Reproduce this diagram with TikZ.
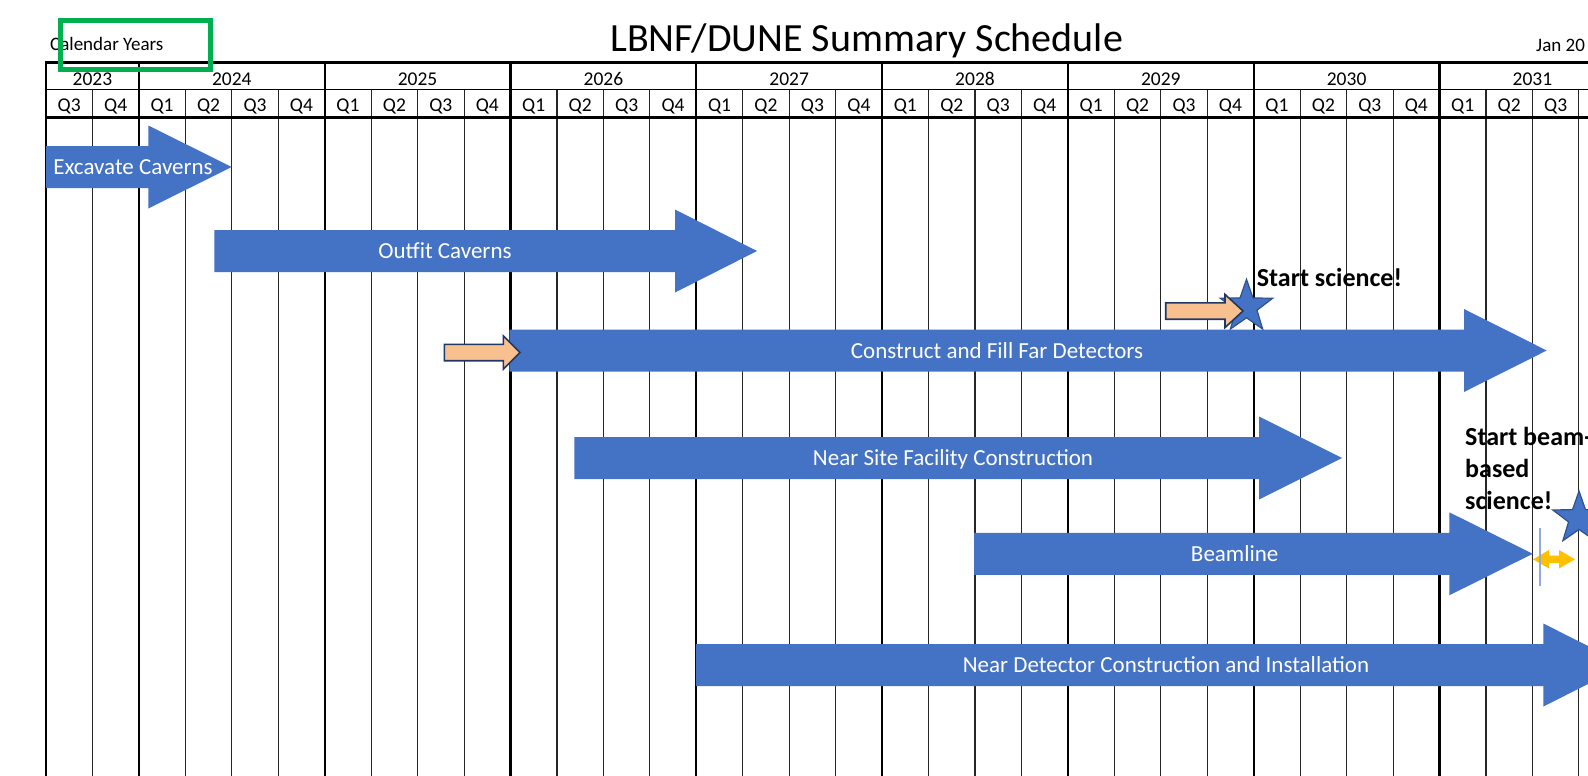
\documentclass[tikz,border=0pt]{standalone}
\usepackage{fontspec}
\setmainfont{Carlito}
\usepackage{tikz}
\usetikzlibrary{shapes.geometric}

\definecolor{barblue}{HTML}{4472C4}
\definecolor{starline}{HTML}{2F528F}
\definecolor{peach}{HTML}{F8C08F}
\definecolor{navy}{HTML}{203864}
\definecolor{gold}{HTML}{FFC000}
\definecolor{paleblue}{HTML}{8FAADC}
\definecolor{boxgreen}{HTML}{00B050}

% blue block arrow: left end, start of head, tip, centre line
\newcommand{\ganttbar}[4]{%
  \fill[barblue] (#1,#4-21) -- (#2,#4-21) -- (#2,#4-41.5) -- (#3,#4)
    -- (#2,#4+41.5) -- (#2,#4+21) -- (#1,#4+21) -- cycle;}
% small orange lead-in arrow
\newcommand{\leadarrow}[4]{%
  \filldraw[fill=peach, draw=navy, line width=1.6pt, line join=miter]
    (#1,#4-8.2) -- (#2,#4-8.2) -- (#2,#4-16.6) -- (#3,#4)
    -- (#2,#4+16.6) -- (#2,#4+8.2) -- (#1,#4+8.2) -- cycle;}

\begin{document}
\begin{tikzpicture}[x=1pt, y=-1pt,
    hdr/.style={inner sep=0pt, anchor=base, font=\fontsize{19.5}{22}\selectfont},
    barlbl/.style={inner sep=0pt, anchor=base, text=white, font=\fontsize{23}{27}\selectfont},
    callout/.style={inner sep=0pt, anchor=base west, font=\bfseries\fontsize{26}{32}\selectfont},
    qline/.style={line width=1.1pt, draw=black!85},
    yline/.style={line width=2.2pt, draw=black},
    milestone/.style={star, star points=5, star point ratio=2.5, minimum size=55pt,
                      inner sep=0pt, fill=barblue, draw=starline, line width=1.2pt}]

\clip (0,0) rectangle (1588,776);
\fill[white] (0,0) rectangle (1588,776);

% grid of quarters and years
\foreach \q in {1,...,34}
  \draw[qline] ({46+46.45*\q},89.3) -- ({46+46.45*\q},776);
\foreach \q in {2,6,...,34}
  \draw[yline] ({46+46.45*\q},62.7) -- ({46+46.45*\q},776);
\draw[yline] (46,62.7) -- (46,776);
\draw[line width=2.4pt] (45,62.7) -- (1588,62.7);
\draw[line width=1pt] (46,89.3) -- (1588,89.3);
\draw[line width=2.4pt] (45,117.3) -- (1588,117.3);

% header
\node[hdr, anchor=base west, font=\fontsize{19}{22}\selectfont] (calyears) at (50,51) {Calendar Years};
\node[inner sep=0pt, anchor=base, font=\fontsize{40}{48}\selectfont] (title) at (866.7,51.7) {LBNF/DUNE Summary Schedule};
\node[hdr, anchor=base west, font=\fontsize{19}{22}\selectfont] (date) at (1536,51.7) {Jan 20};

\node[hdr] (y2023) at ({46+46.45*1},85) {2023};
\foreach \yr [count=\i from 0] in {2024,...,2031}
  \node[hdr] (y\yr) at ({46+46.45*(4+4*\i)},85) {\yr};
\foreach \q in {0,...,32} {
  \pgfmathtruncatemacro\qn{mod(\q+2,4)+1}
  \node[hdr] (q\q) at ({46+46.45*(\q+0.5)},111.5) {Q\qn};
}

% activities
\ganttbar{46}{148.3}{231.7}{167}
\ganttbar{214.4}{675}{757}{251}
\ganttbar{509.3}{1464}{1546.7}{350.5}
\ganttbar{574.3}{1259}{1342}{458}
\ganttbar{974}{1449.3}{1532.7}{553.8}
\ganttbar{695.8}{1543.3}{1626}{665}

\node[barlbl] (excavate) at (133,174) {Excavate Caverns};
\node[barlbl] (outfit) at (445,258.5) {Outfit Caverns};
\node[barlbl] (farfill) at (997,358) {Construct and Fill Far Detectors};
\node[barlbl] (nearsite) at (953,465.5) {Near Site Facility Construction};
\node[barlbl] (beamline) at (1234.7,561.3) {Beamline};
\node[barlbl] (neardet) at (1166,672.5) {Near Detector Construction and Installation};

% milestones
\node[milestone] (star1) at (1246.5,306.8) {};
\node[milestone] (star2) at (1579,518.5) {};
\leadarrow{444.3}{503.3}{520}{352.5}
\leadarrow{1165.7}{1225}{1243}{311}

\fill[gold] (1533,559.3) -- (1549,550) -- (1549,555.5) -- (1559,555.5) -- (1559,550)
  -- (1575,559.3) -- (1559,568.5) -- (1559,563) -- (1549,563) -- (1549,568.5) -- cycle;
\coordinate (gaptop) at (1540,528);
\coordinate (gapbot) at (1540,585.7);
\draw[paleblue, line width=1.6pt] (gaptop) -- (gapbot);

\node[callout] (startsci) at (1256.7,286) {Start science!};
\node[callout, align=left] (startbeam) at (1465,509) {Start beam-\\based\\science!};

\draw[boxgreen, line width=5pt] (60.8,20.8) rectangle (210.8,69.2);
\end{tikzpicture}
\end{document}
